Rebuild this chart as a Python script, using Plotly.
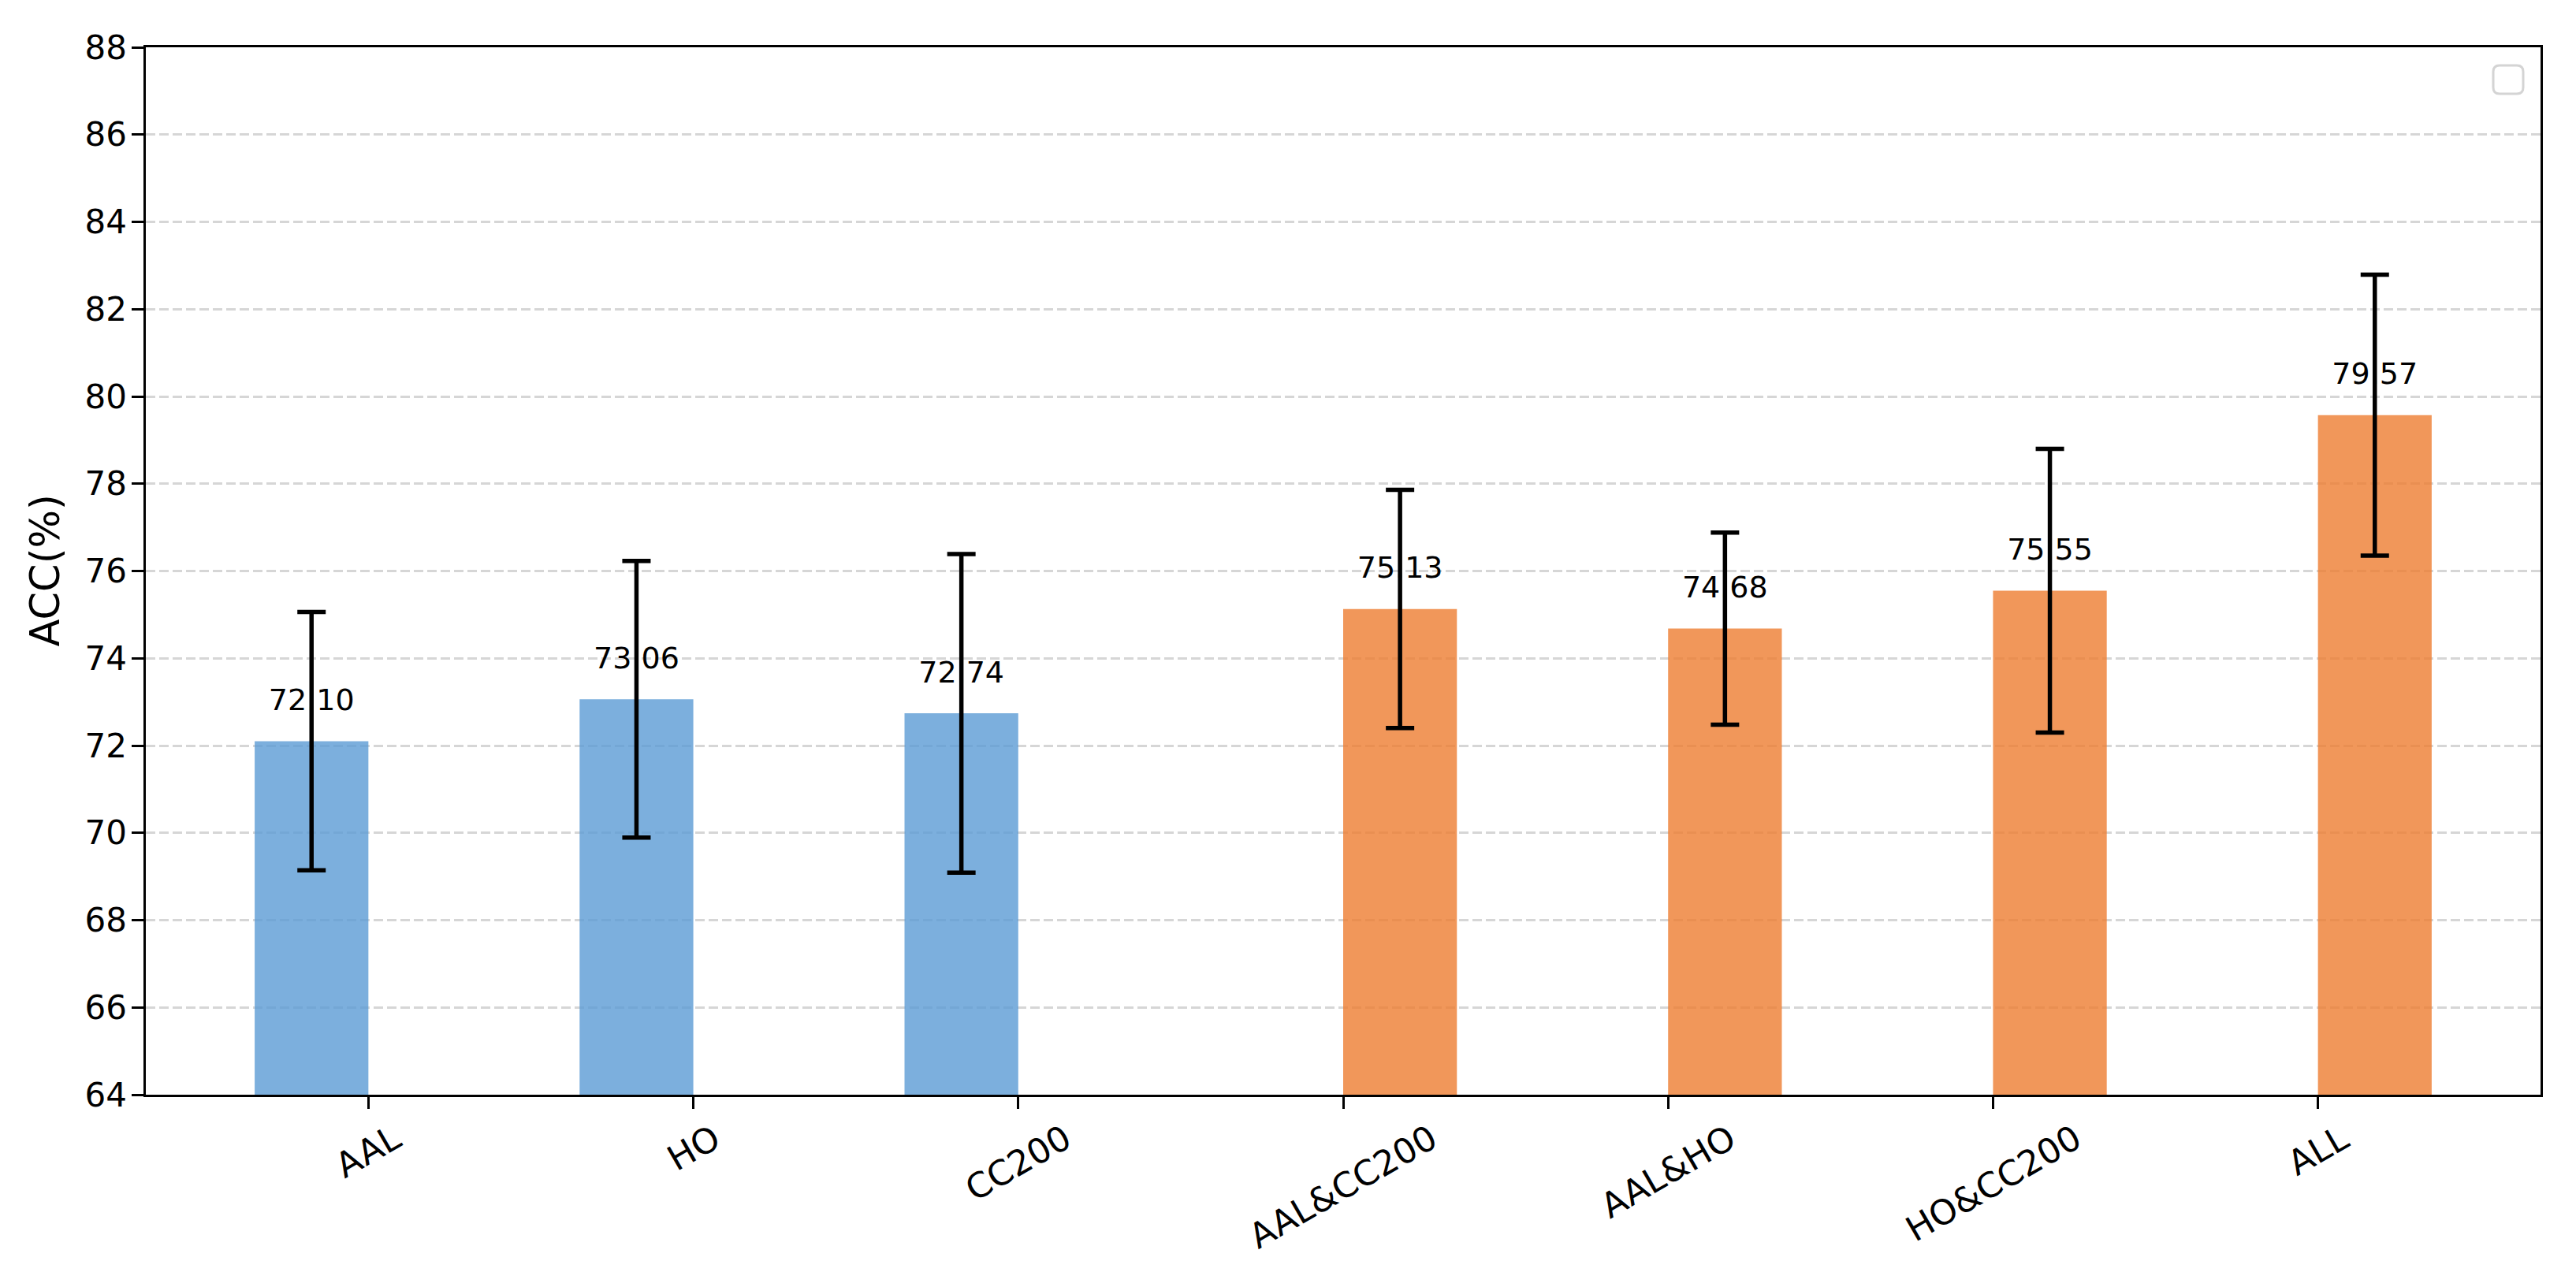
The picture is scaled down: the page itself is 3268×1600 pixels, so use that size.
import plotly.graph_objects as go

# ---------------- data ----------------
categories = ["AAL", "HO", "CC200", "AAL&CC200", "AAL&HO", "HO&CC200", "ALL"]
single_idx = [0, 1, 2]
single_acc = [72.10, 73.06, 72.74]
single_err = [2.96, 3.17, 3.65]
fusion_idx = [3, 4, 5, 6]
fusion_acc = [75.13, 74.68, 75.55, 79.57]
fusion_err = [2.73, 2.20, 3.25, 3.22]
y_ticks = [64, 66, 68, 70, 72, 74, 76, 78, 80, 82, 84, 86, 88]

# ---------------- style ----------------
W, H = 3268, 1600
ML, MR, MT, MB = 185, 45, 60, 211
BAR_W = 0.35
BLUE = "rgba(91,155,213,0.8)"
ORANGE = "rgba(237,125,49,0.8)"
FONT = "DejaVu Sans"
LABEL_OFFSET = 0.885

fig = go.Figure()

fig.add_trace(go.Bar(x=single_idx, y=single_acc, width=BAR_W, offset=-BAR_W,
                     marker=dict(color=BLUE, line=dict(width=0)),
                     showlegend=False, hoverinfo="skip"))
fig.add_trace(go.Bar(x=fusion_idx, y=fusion_acc, width=BAR_W, offset=0,
                     marker=dict(color=ORANGE, line=dict(width=0)),
                     showlegend=False, hoverinfo="skip"))

centers = [i - BAR_W / 2 for i in single_idx] + [i + BAR_W / 2 for i in fusion_idx]
all_acc = single_acc + fusion_acc
all_err = single_err + fusion_err

# value labels (drawn under the error bars)
fig.add_trace(go.Scatter(x=centers, y=[v + LABEL_OFFSET for v in all_acc],
                         mode="text", text=[f"{v:.2f}" for v in all_acc],
                         textposition="middle center",
                         textfont=dict(family=FONT, size=38, color="black"),
                         showlegend=False, hoverinfo="skip", cliponaxis=False))

# error bars
fig.add_trace(go.Scatter(x=centers, y=all_acc, mode="markers",
                         marker=dict(size=1, opacity=0),
                         error_y=dict(type="data", array=all_err, visible=True,
                                      color="black", thickness=5.5, width=18),
                         showlegend=False, hoverinfo="skip"))

# x tick labels (rotated, centred on the tick)
for i, c in enumerate(categories):
    fig.add_annotation(x=i, xref="x", y=0, yref="paper", text=c,
                       showarrow=False, textangle=-30, xanchor="center",
                       yanchor="top", yshift=-27, borderpad=0,
                       font=dict(family=FONT, size=44, color="black"))

# y title
fig.add_annotation(x=0, xref="paper", y=0.5, yref="paper", text="ACC(%)",
                   showarrow=False, textangle=-90, xanchor="center",
                   yanchor="middle", xshift=-128,
                   font=dict(family=FONT, size=51, color="black"))

# empty legend box
fig.add_shape(type="path", xref="paper", yref="paper",
              xsizemode="pixel", ysizemode="pixel", xanchor=1, yanchor=1,
              path="M -52,-23 L -30,-23 Q -22,-23 -22,-31 L -22,-51 Q -22,-59 -30,-59 "
                   "L -52,-59 Q -60,-59 -60,-51 L -60,-31 Q -60,-23 -52,-23 Z",
              line=dict(color="#d4d4d4", width=3), fillcolor="white", layer="above")

fig.update_layout(
    width=W, height=H,
    margin=dict(l=ML, r=MR, t=MT, b=MB, pad=0),
    paper_bgcolor="white", plot_bgcolor="white",
    font=dict(family=FONT, color="black"),
    barmode="overlay",
    xaxis=dict(range=[-0.685, 6.685], tickvals=list(range(len(categories))),
               showticklabels=False, ticks="outside", ticklen=14.6, tickwidth=3,
               tickcolor="black", showgrid=False, zeroline=False,
               showline=True, linecolor="black", linewidth=3, mirror=True),
    yaxis=dict(range=[64, 88], tickvals=y_ticks, ticktext=[str(t) for t in y_ticks],
               ticks="outside", ticklen=14.6, tickwidth=3, tickcolor="black",
               tickfont=dict(family=FONT, size=42, color="black"),
               ticklabelstandoff=-2,
               showgrid=True, gridcolor="#d6d6d6", gridwidth=3.3, griddash="12px,5px",
               zeroline=False, showline=True, linecolor="black", linewidth=3, mirror=True),
)

fig.write_html("out.html", config={"displayModeBar": False},
               post_script="document.body.style.margin='0';document.body.style.overflow='hidden';")
